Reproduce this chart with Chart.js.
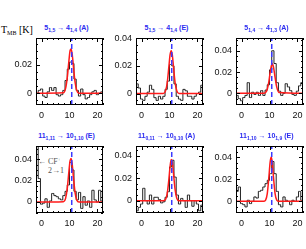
<!DOCTYPE html>
<html>
<head>
<meta charset="utf-8">
<script src="https://cdn.jsdelivr.net/npm/chart.js@4.4.1/dist/chart.umd.min.js"></script>
<style>
body { margin: 0; background: #fff; width: 306px; height: 249px; position: relative; overflow: hidden; }
canvas { position: absolute; }
.title { position: absolute; width: 67px; color: #2b2bf0; font: bold 7px "Liberation Sans", Arial, sans-serif; line-height: 9px; text-align: center; white-space: nowrap; }
.title sub { font-size: 5px; vertical-align: -2px; line-height: 0; }
.ylab { position: absolute; left: 1px; top: 25px; font: 10px "Liberation Serif", serif; line-height: 10px; color: #000; white-space: nowrap; }
.ylab sub { font-size: 6px; vertical-align: -2px; line-height: 0; }
.note { position: absolute; font: 8px "Liberation Serif", serif; line-height: 8px; color: #555; white-space: nowrap; }
.note sup { font-size: 5px; vertical-align: 3px; line-height: 0; }
</style>
</head>
<body>
<div class="ylab">T<sub>MB</sub> [K]</div>
<div class="note" style="left:38px;top:158px">&larr; CF<sup>+</sup></div>
<div class="note" style="left:48px;top:167px">2&rarr;1</div>
<script>
// channel velocities (km/s)
const vel = [-1.6, -0.8, 0, 0.8, 1.6, 2.4, 3.2, 4.0, 4.8, 5.6, 6.4, 7.2, 8.0, 8.8, 9.6,
             10.4, 11.2, 12.0, 12.8, 13.6, 14.4, 15.2, 16.0, 16.8, 17.6, 18.4, 19.2, 20.0, 20.8, 21.6];

// observed spectra, T_MB in K
const spec1 = [0.000, 0.002, 0.003, -0.002, -0.003, 0.001, 0.004, 0.002, 0.004, -0.001, -0.002, -0.001, 0.002, 0.009, 0.017,
               0.022, 0.021, 0.010, 0.002, -0.002, 0.003, -0.001, -0.004, -0.003, -0.001, 0.001, 0.002, -0.001, 0.000, 0.001];
const spec2 = [0.007, 0.004, -0.004, -0.005, -0.002, 0.001, 0.006, 0.003, -0.003, -0.005, -0.002, -0.004, -0.002, 0.003, 0.009,
               0.021, 0.020, 0.007, -0.002, -0.004, -0.005, 0.003, 0.002, -0.002, -0.002, -0.004, -0.002, 0.000, 0.001, 0.006];
const spec3 = [-0.002, -0.005, -0.007, -0.004, -0.002, 0.010, -0.004, 0.001, -0.001, 0.001, -0.002, 0.0025, -0.002, 0.003, 0.008,
               0.022, 0.040, 0.028, 0.010, 0.002, -0.002, 0.000, 0.009, 0.006, 0.0025, -0.001, -0.002, 0.002, 0.007, 0.010];
const spec4 = [0.060, 0.022, -0.002, -0.001, 0.003, -0.005, 0.001, 0.008, 0.006, 0.005, 0.003, 0.002, 0.006, 0.010, 0.016,
               0.037, 0.030, 0.010, 0.002, 0.009, -0.006, 0.005, -0.003, 0.001, -0.005, 0.011, 0.002, 0.000, 0.011, 0.001];
const spec5 = [-0.009, -0.006, -0.003, 0.011, 0.000, -0.003, 0.005, -0.003, 0.003, 0.003, 0.001, -0.002, -0.001, 0.003, 0.008,
               0.030, 0.036, 0.021, 0.005, -0.003, 0.002, 0.000, -0.006, 0.005, 0.000, -0.005, 0.000, -0.003, -0.009, -0.004];
const spec6 = [0.009, 0.013, -0.002, -0.003, -0.005, 0.001, -0.002, 0.000, 0.004, 0.003, 0.009, 0.010, 0.013, 0.016, 0.019,
               0.025, 0.036, 0.025, 0.009, -0.003, -0.005, 0.004, 0.001, 0.000, -0.003, 0.001, 0.000, 0.004, 0.009, 0.001];

// gaussian fits (red), read at these velocities
const fitVel = [-2, 7.8, 8.6, 9.2, 9.8, 10.2, 10.6, 11.0, 11.4, 12.0, 12.6, 13.4, 22];
const fit1 = [0, 0.0003, 0.0034, 0.011, 0.023, 0.030, 0.0313, 0.027, 0.019, 0.0078, 0.002, 0, 0];
const fit2 = [0, 0, 0.002, 0.008, 0.020, 0.028, 0.031, 0.028, 0.020, 0.008, 0.002, 0, 0];
const fit3 = [0, 0, 0.0008, 0.0038, 0.0115, 0.019, 0.025, 0.028, 0.025, 0.015, 0.0058, 0.0008, 0];
const fit4 = [0, 0.0003, 0.0034, 0.0127, 0.029, 0.0385, 0.0407, 0.0345, 0.0234, 0.0088, 0.0019, 0, 0];
const fit5 = [0, 0, 0.0012, 0.0064, 0.0196, 0.0303, 0.0367, 0.0345, 0.025, 0.010, 0.0022, 0, 0];
const fit6 = [0, 0, 0.0011, 0.007, 0.0226, 0.0348, 0.040, 0.0348, 0.0226, 0.007, 0.0011, 0, 0];

const vlsr = 10.8;
const xTicks = [0, 10, 20];
const yTicks = [0, 0.02, 0.04];
const yLo = [-0.0083, -0.0083, -0.011, -0.0103, -0.011, -0.0105];
const yHi = [0.039, 0.0402, 0.052, 0.0525, 0.0487, 0.050];
const titles = [
  '5<sub>1,5</sub> &rarr; 4<sub>1,4</sub> (A)',
  '5<sub>1,5</sub> &rarr; 4<sub>1,4</sub> (E)',
  '5<sub>1,4</sub> &rarr; 4<sub>1,3</sub> (A)',
  '11<sub>1,11</sub> &rarr; 10<sub>1,10</sub> (E)',
  '11<sub>0,11</sub> &rarr; 10<sub>0,10</sub> (A)',
  '11<sub>1,10</sub> &rarr; 10<sub>1,9</sub> (E)'
];

const specs = [spec1, spec2, spec3, spec4, spec5, spec6];
const fits = [fit1, fit2, fit3, fit4, fit5, fit6];
const boxLeft = [36, 136, 236];
const boxTop = [38, 146];
const BOX = 67, YAX = 32, XAX = 14, PAD = 3;
const tickFont = { family: 'Liberation Sans', size: 9 };

// box + inward ticks on all four sides
const frame = {
  id: 'frame',
  afterDatasetsDraw(chart) {
    const { ctx, chartArea: a, scales: { x, y } } = chart;
    ctx.save();
    ctx.strokeStyle = '#000';
    ctx.lineWidth = 1;
    ctx.strokeRect(a.left + 0.5, a.top + 0.5, a.right - a.left - 1, a.bottom - a.top - 1);
    ctx.beginPath();
    for (let v = -2; v <= 22; v += 2) {
      const px = Math.round(x.getPixelForValue(v)) + 0.5;
      const len = v % 10 === 0 ? 4 : 2;
      ctx.moveTo(px, a.bottom); ctx.lineTo(px, a.bottom - len);
      ctx.moveTo(px, a.top); ctx.lineTo(px, a.top + len);
    }
    for (let k = Math.ceil(y.min / 0.005); k * 0.005 <= y.max; k++) {
      const py = Math.round(y.getPixelForValue(k * 0.005)) + 0.5;
      const len = k % 4 === 0 ? 4 : 2;
      ctx.moveTo(a.left, py); ctx.lineTo(a.left + len, py);
      ctx.moveTo(a.right, py); ctx.lineTo(a.right - len, py);
    }
    ctx.stroke();
    ctx.restore();
  }
};

for (let i = 0; i < 6; i++) {
  const bx = boxLeft[i % 3], by = boxTop[Math.floor(i / 3)];

  const t = document.createElement('div');
  t.className = 'title';
  t.style.left = (bx - 3) + 'px';
  t.style.top = (by - 15) + 'px';
  t.innerHTML = titles[i];
  document.body.appendChild(t);

  const cv = document.createElement('canvas');
  cv.width = YAX + BOX + PAD;
  cv.height = PAD + BOX + XAX;
  cv.style.left = (bx - YAX) + 'px';
  cv.style.top = (by - PAD) + 'px';
  document.body.appendChild(cv);

  new Chart(cv, {
    type: 'line',
    data: {
      datasets: [
        {
          data: [{ x: vlsr, y: yLo[i] }, { x: vlsr, y: yHi[i] }],
          borderColor: '#3a3aff', borderWidth: 1.5, borderDash: [5, 3]
        },
        {
          data: fitVel.map((v, j) => ({ x: v, y: fits[i][j] })),
          borderColor: '#ff1a1a', borderWidth: 1.5, cubicInterpolationMode: 'monotone'
        },
        {
          data: vel.map((v, j) => ({ x: v, y: specs[i][j] })),
          borderColor: '#222', borderWidth: 1, stepped: 'middle'
        }
      ]
    },
    options: {
      responsive: false,
      animation: false,
      devicePixelRatio: 1,
      layout: { padding: { top: PAD, right: PAD, left: 0, bottom: 0 } },
      elements: { point: { radius: 0 } },
      plugins: { legend: { display: false }, tooltip: { enabled: false } },
      scales: {
        x: {
          type: 'linear', min: -2, max: 22,
          grid: { display: false, drawTicks: false },
          border: { display: false },
          ticks: { font: tickFont, color: '#111', padding: 5, maxRotation: 0 },
          afterBuildTicks: s => { s.ticks = xTicks.map(v => ({ value: v })); },
          afterFit: s => { s.height = XAX; s.paddingLeft = 0; s.paddingRight = 0; }
        },
        y: {
          min: yLo[i], max: yHi[i],
          grid: { display: false, drawTicks: false },
          border: { display: false },
          ticks: {
            font: tickFont, color: '#111', padding: 4,
            callback: v => v === 0 ? '0' : v.toFixed(2)
          },
          afterBuildTicks: s => { s.ticks = yTicks.filter(v => v >= s.min && v <= s.max).map(v => ({ value: v })); },
          afterFit: s => { s.width = YAX; s.paddingTop = 0; s.paddingBottom = 0; }
        }
      }
    },
    plugins: [frame]
  });
}
</script>
</body>
</html>
